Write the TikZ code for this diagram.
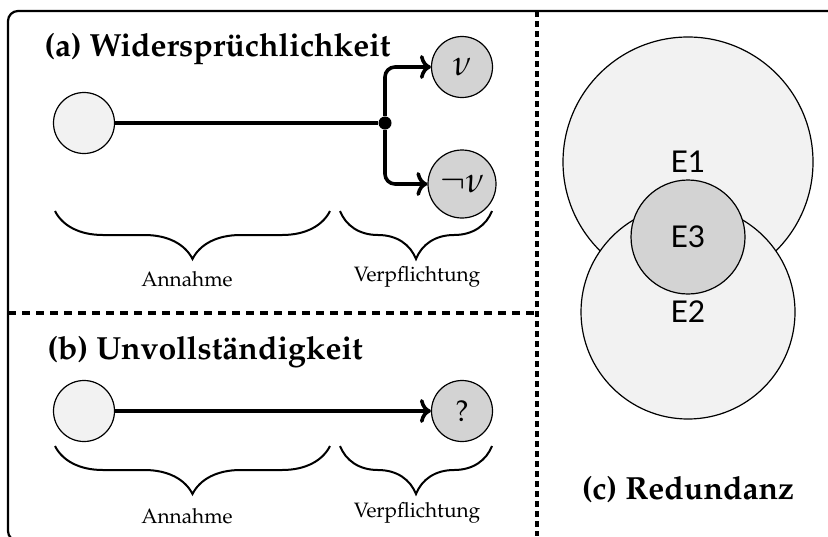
\documentclass[tikz,border=0pt]{standalone}
\usepackage{fontspec}
\newfontfamily\setsans{Lato}
\usepackage[T1]{fontenc}
\usepackage{mathpazo}
\usetikzlibrary{arrows.meta,decorations.pathreplacing}
\definecolor{lightfill}{HTML}{F2F2F2}
\definecolor{darkfill}{HTML}{D3D3D3}
\begin{document}
\begin{tikzpicture}[x=0.5pt,y=-0.5pt,
  premise/.style={circle,draw,line width=0.6pt,fill=lightfill,minimum size=30.5pt,inner sep=0pt},
  duty/.style={circle,draw,line width=0.6pt,fill=darkfill,minimum size=30.5pt,inner sep=0pt,font=\fontsize{18}{20}\selectfont},
  flow/.style={line width=1.8pt},
  tip/.style={-{To[length=5.5pt,width=12pt]}},
  heading/.style={font=\fontsize{16}{19}\selectfont\bfseries,anchor=west,inner sep=0pt},
  caption/.style={font=\fontsize{10.4}{12}\selectfont,inner sep=0pt},
  bracket/.style={line width=1pt,decorate,decoration={brace,mirror,amplitude=24pt}},
  setcirc/.style={circle,draw,line width=0.6pt,inner sep=0pt,font=\setsans\fontsize{15}{17}\selectfont},
]
\useasboundingbox (0,0) rectangle (828,536);

% outer frame and panel separators
\draw[line width=1.1pt,rounded corners=5pt] (8,11) rectangle (845,541);
\draw[line width=2.2pt,dash pattern=on 3pt off 2pt] (537,11) -- (537,536);
\draw[line width=1.8pt,dash pattern=on 4pt off 3pt] (8,313) -- (537,313);

% (a) contradiction
\node[heading] (ta) at (44,49) {(a) Widersprüchlichkeit};
\node[premise] (pa) at (84,123) {};
\node[circle,fill,inner sep=0pt,minimum size=6.5pt] (jn) at (385,123) {};
\node[duty] (nu) at (462,67) {$\nu$};
\node[duty,minimum size=34pt] (nnu) at (462,184) {$\neg\nu$};
\draw[flow] (pa) -- (jn);
\draw[flow,tip,rounded corners=5pt] (jn) |- (nu);
\draw[flow,tip,rounded corners=5pt] (jn) |- (nnu);
\coordinate (a1) at (55,211);
\coordinate (a2) at (330,211);
\coordinate (a3) at (340,211);
\coordinate (a4) at (492,211);
\draw[bracket] (a1) -- (a2);
\draw[bracket] (a3) -- (a4);
\node[caption] (la) at (187,279) {Annahme};
\node[caption] (lv) at (417,277) {Verpflichtung};

% (b) incompleteness
\node[heading] (tb) at (47,352) {(b) Unvollständigkeit};
\node[premise] (pb) at (84,411) {};
\node[duty,font=\fontsize{15}{17}\selectfont] (qb) at (462,411) {?};
\draw[flow,tip] (pb) -- (qb);
\coordinate (b1) at (55,446);
\coordinate (b2) at (330,446);
\coordinate (b3) at (340,446);
\coordinate (b4) at (492,446);
\draw[bracket] (b1) -- (b2);
\draw[bracket] (b3) -- (b4);
\node[caption] (lb) at (187,516) {Annahme};
\node[caption] (lw) at (417,513) {Verpflichtung};

% (c) redundancy
\node[setcirc,fill=lightfill,minimum size=125pt] (e1) at (688,162) {E1};
\node[setcirc,fill=lightfill,minimum size=107pt] (e2) at (688,312) {E2};
\node[setcirc,fill=darkfill,minimum size=57pt] (e3) at (688,237) {E3};
\node[font=\fontsize{16}{19}\selectfont\bfseries,inner sep=0pt] (tc) at (688,490) {(c) Redundanz};
\end{tikzpicture}
\end{document}
